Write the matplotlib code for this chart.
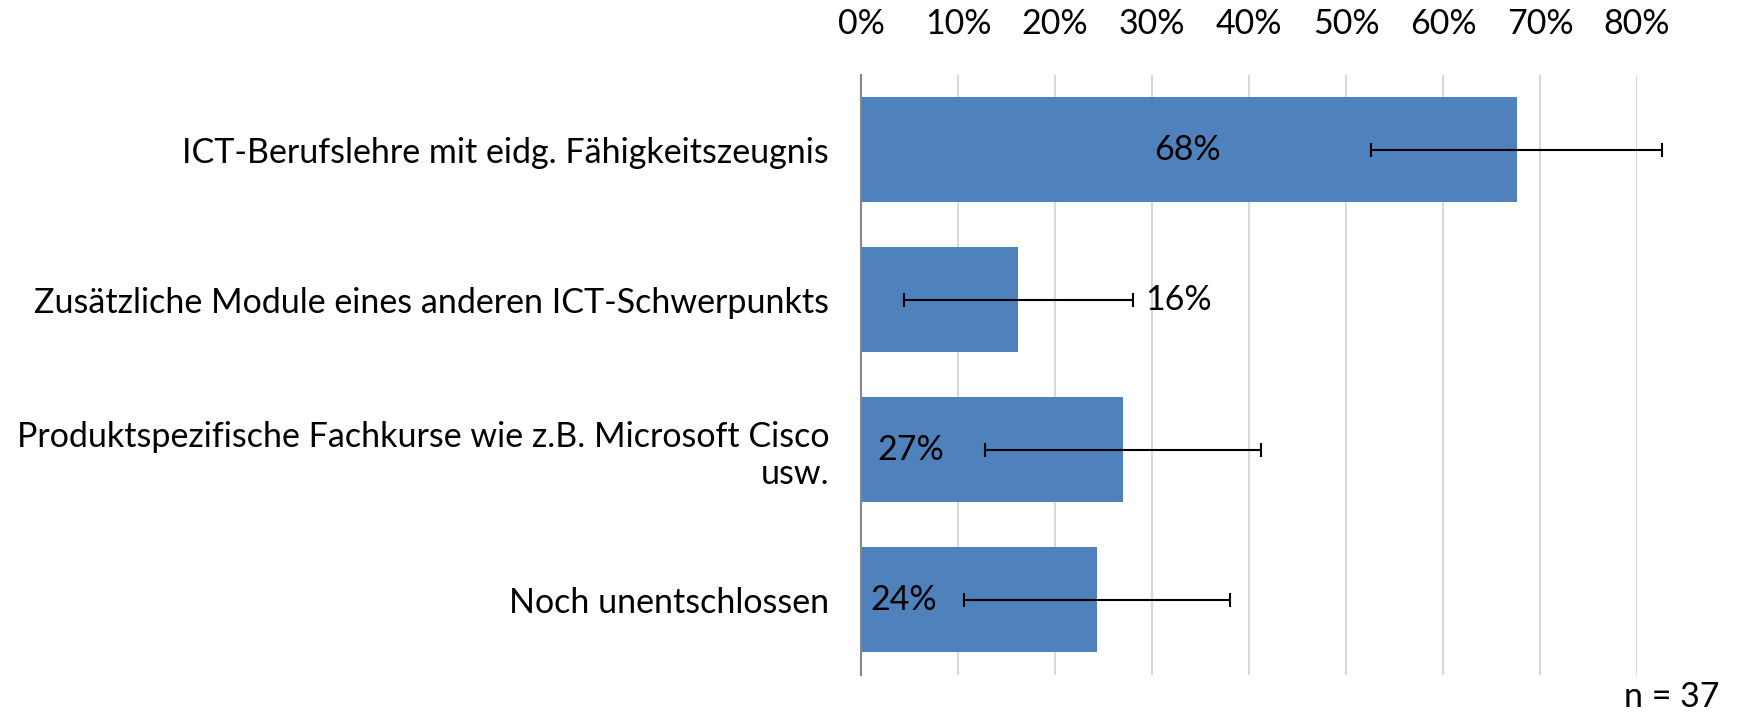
import matplotlib.pyplot as plt

categories = [
    "ICT-Berufslehre mit eidg. Fähigkeitszeugnis",
    "Zusätzliche Module eines anderen ICT-Schwerpunkts",
    "Produktspezifische Fachkurse wie z.B. Microsoft Cisco\nusw.",
    "Noch unentschlossen",
]
shares = [0.676, 0.162, 0.270, 0.243]
errors = [0.150, 0.118, 0.142, 0.137]
value_labels = ["68%", "16%", "27%", "24%"]
tick_values = [0, 0.1, 0.2, 0.3, 0.4, 0.5, 0.6, 0.7, 0.8]
tick_labels = ["0%", "10%", "20%", "30%", "40%", "50%", "60%", "70%", "80%"]
n_text = "n = 37"

# label placement (x in data units, alignment) - Excel put them by hand
label_pos = [(0.336, "center"), (0.327, "center"), (0.017, "left"), (0.010, "left")]

plt.rcParams['font.family'] = ['Lato', 'DejaVu Sans']
FS = 24.5

fig = plt.figure(figsize=(17.42, 7.16), dpi=100)
ax = fig.add_axes([0.4943, 0.0573, 0.4454, 0.838])

ypos = list(range(len(categories)))
ax.barh(ypos, shares, height=0.7, color="#4f81bd", zorder=2)
ax.errorbar(shares, ypos, xerr=errors, fmt="none", ecolor="black",
            elinewidth=1.5, capsize=5, capthick=1.5, zorder=3, clip_on=False)

for y, lab, (lx, ha) in zip(ypos, value_labels, label_pos):
    ax.text(lx, y, lab, ha=ha, va="center", fontsize=FS, zorder=4)

ax.set_ylim(len(categories) - 0.5, -0.5)
ax.set_xlim(0, 0.8)
ax.set_yticks(ypos)
ax.set_yticklabels(categories, fontsize=FS, ha="right")
ax.tick_params(axis="y", length=0, pad=23)

ax.xaxis.tick_top()
ax.set_xticks(tick_values)
ax.set_xticklabels(tick_labels, fontsize=FS)
ax.tick_params(axis="x", length=0, pad=25)
ax.grid(axis="x", color="#d9d9d9", linewidth=1.5, zorder=0)
ax.set_axisbelow(True)

for s in ["top", "right", "bottom"]:
    ax.spines[s].set_visible(False)
ax.spines["left"].set_color("#868686")
ax.spines["left"].set_linewidth(1.5)
ax.spines["left"].set_zorder(5)

fig.text(0.987, 0.004, n_text, ha="right", va="bottom", fontsize=FS)

fig.savefig("out.png", dpi=100)
